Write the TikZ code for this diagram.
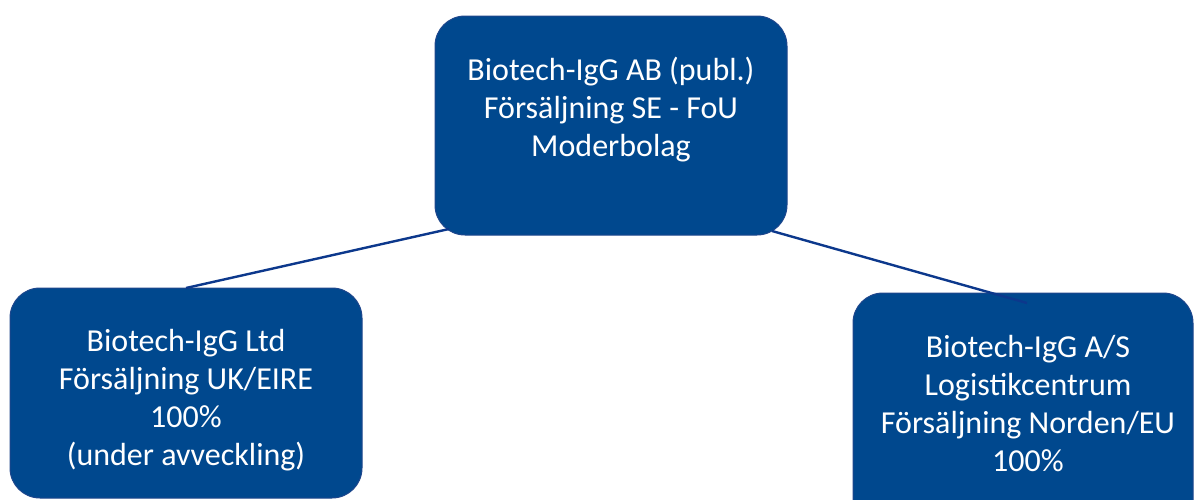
\documentclass[tikz,border=0pt]{standalone}
\usepackage{fontspec}
\setmainfont{Carlito}
\definecolor{boxblue}{RGB}{0,72,142}
\definecolor{boxedge}{RGB}{30,70,140}
\definecolor{linkblue}{RGB}{12,56,140}
\begin{document}
\begin{tikzpicture}[x=1pt,y=-1pt,
  orgbox/.style={draw=boxedge,line width=1pt,fill=boxblue,rounded corners=30pt},
  orgtext/.style={text=white,align=center,font=\fontsize{32}{38}\selectfont,inner sep=0pt},
  link/.style={draw=linkblue,line width=2.4pt}]
\useasboundingbox (0,0) rectangle (1195,499);
% boxes
\draw[orgbox] (435,16) rectangle (787,235);
\draw[orgbox] (10,288) rectangle (362,498);
\draw[orgbox] (853,293) rectangle (1193,530);
% connectors
\coordinate (topL) at (449,229);
\coordinate (topR) at (772,231);
\coordinate (leftTop) at (186,288);
\coordinate (rightIn) at (1027,303);
\draw[link] (leftTop) -- (topL);
\draw[link] (topR) -- (rightIn);
% texts
\node[orgtext] (top) at (611,110) {Biotech-IgG AB (publ.)\\Försäljning SE - FoU\\Moderbolag};
\node[orgtext] (left) at (186,400) {Biotech-IgG Ltd\\Försäljning UK/EIRE\\100\%\\(under avveckling)};
\node[orgtext] (right) at (1028,404) {Biotech-IgG A/S\\Logistikcentrum\\Försäljning Norden/EU\\100\%};
\end{tikzpicture}
\end{document}
